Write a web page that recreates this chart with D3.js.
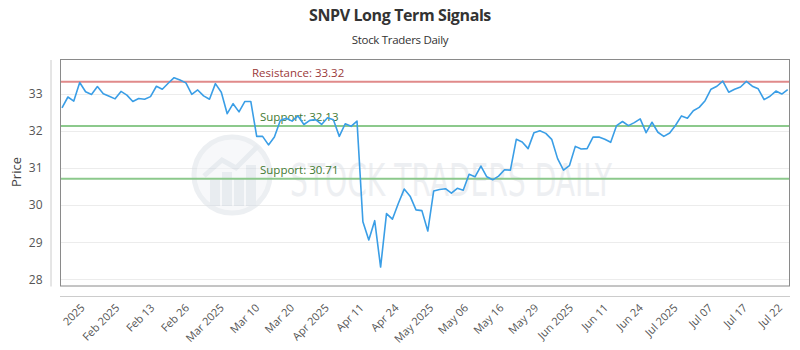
<!DOCTYPE html>
<html><head><meta charset="utf-8">
<script src="https://cdn.jsdelivr.net/npm/d3@7/dist/d3.min.js"></script>
<style>body{margin:0;background:#fff}</style>
</head><body><svg id="c" width="800" height="350"></svg>
<script>
const prices = [32.62,32.91,32.80,33.30,33.05,32.98,33.19,33.00,32.93,32.86,
33.06,32.96,32.79,32.87,32.85,32.92,33.20,33.12,33.28,33.43,
33.37,33.29,32.98,33.10,32.94,32.85,33.27,33.04,32.46,32.73,
32.51,32.79,32.79,31.85,31.85,31.62,31.83,32.28,32.34,32.26,
32.40,32.17,32.28,32.30,32.17,32.35,32.30,31.85,32.19,32.12,
32.26,29.55,29.06,29.58,28.33,29.77,29.62,30.04,30.43,30.24,
29.87,29.85,29.30,30.38,30.42,30.44,30.32,30.45,30.40,30.83,
30.76,31.05,30.76,30.68,30.78,30.95,30.94,31.77,31.70,31.52,
31.95,32.00,31.93,31.77,31.25,30.94,31.06,31.58,31.51,31.52,
31.83,31.83,31.77,31.69,32.14,32.25,32.14,32.22,32.32,31.95,
32.23,31.96,31.85,31.94,32.15,32.40,32.34,32.54,32.63,32.81,
33.12,33.20,33.34,33.04,33.12,33.18,33.33,33.20,33.13,32.84,
32.93,33.07,32.99,33.11];
const tickLabels = ["2025","Feb 2025","Feb 13","Feb 26","Mar 2025","Mar 10","Mar 20","Apr 2025","Apr 11","Apr 24",
"May 2025","May 06","May 16","May 29","Jun 2025","Jun 11","Jun 24","Jul 2025","Jul 07","Jul 17","Jul 22"];
const tickIdx = [4.4,10.3,16.2,22.1,28.0,34.0,39.9,45.8,51.7,57.6,63.5,69.4,75.4,81.3,87.2,93.1,99.0,104.9,110.8,116.7,122.6];
const yTicks = [28,29,30,31,32,33];
const levelNames = ["Resistance","Support","Support"];
const levelValues = [33.32,32.13,30.71];
const levelKinds = ["res","sup","sup"];

const svg = d3.select("#c");
const L = 60, R = 789, T = 59.5, B = 286;
const x = d3.scaleLinear().domain([0, prices.length - 1]).range([62, 787.7]);
const y = d3.scaleLinear().domain([27.82, 33.92]).range([B, T]);

// titles
svg.append("text").attr("x", 400).attr("y", 21).attr("text-anchor", "middle")
  .attr("font-family", "Open Sans, sans-serif").attr("font-weight", "bold").attr("font-size", 16)
  .attr("fill", "#333").attr("letter-spacing", -0.4).text("SNPV Long Term Signals");
svg.append("text").attr("x", 400).attr("y", 44).attr("text-anchor", "middle")
  .attr("font-family", "Open Sans, sans-serif").attr("font-size", 11.5)
  .attr("fill", "#333").attr("letter-spacing", -0.3).text("Stock Traders Daily");

// gridlines
svg.append("g").selectAll("line").data(yTicks).join("line")
  .attr("x1", L).attr("x2", R).attr("y1", d => Math.round(y(d)) + 0.5).attr("y2", d => Math.round(y(d)) + 0.5)
  .attr("stroke", "#ececec").attr("stroke-width", 1);

// watermark
const wm = svg.append("g").attr("opacity", 0.55);
wm.append("circle").attr("cx", 232).attr("cy", 175).attr("r", 38).attr("fill", "#f2f4f7")
  .attr("stroke", "#dde2e8").attr("stroke-width", 5);
[[210,180,10,26],[222,172,10,34],[234,178,10,28],[246,165,10,41]].forEach(b => {
  wm.append("rect").attr("x", b[0]).attr("y", b[1]).attr("width", b[2]).attr("height", b[3]).attr("fill", "#d6dde5");
});
wm.append("path").attr("d", "M204,176 L222,160 L236,168 L258,146").attr("fill", "none").attr("stroke", "#d6dde5").attr("stroke-width", 5);
wm.append("text").attr("x", 290).attr("y", 196).attr("font-family", "Liberation Sans Narrow, DejaVu Sans Condensed, sans-serif")
  .attr("font-size", 44).attr("fill", "#dfe3e8").attr("textLength", 322).attr("lengthAdjust", "spacingAndGlyphs")
  .text("STOCK TRADERS DAILY");

// level lines
const lvl = svg.append("g");
levelValues.forEach((v, i) => {
  const col = levelKinds[i] === "res" ? "#e08a8a" : "#8cc98c";
  const tcol = levelKinds[i] === "res" ? "#9b3a3a" : "#3f7a32";
  lvl.append("line").attr("x1", L).attr("x2", R).attr("y1", y(v)).attr("y2", y(v))
    .attr("stroke", col).attr("stroke-width", 2);
  lvl.append("text").attr("x", levelKinds[i] === "res" ? 252 : 260).attr("y", y(v) - 5)
    .attr("font-family", "Open Sans, sans-serif").attr("font-size", 11.5).attr("fill", tcol)
    .text(levelNames[i] + ": " + v.toFixed(2));
});

// price line
svg.append("path").datum(prices)
  .attr("d", d3.line().x((d, i) => x(i)).y(d => y(d)))
  .attr("fill", "none").attr("stroke", "#3a9ee6").attr("stroke-width", 1.6).attr("stroke-linejoin", "round");

// plot border
svg.append("rect").attr("x", L + 0.5).attr("y", T).attr("width", R - L).attr("height", B - T)
  .attr("fill", "none").attr("stroke", "#8a8a8a").attr("stroke-width", 1);

// y axis
const ya = svg.append("g").attr("transform", "translate(50.5,0)")
  .call(d3.axisLeft(y).tickValues(yTicks).tickSize(0).tickPadding(8).tickFormat(d3.format("d")));
ya.select(".domain").attr("stroke", "#ccc");
ya.selectAll("text").attr("font-family", "Open Sans, sans-serif").attr("font-size", 12).attr("fill", "#555");
svg.append("text").attr("transform", "translate(21,172) rotate(-90)").attr("text-anchor", "middle")
  .attr("font-family", "Open Sans, sans-serif").attr("font-size", 13).attr("fill", "#444").text("Price");

// x axis
const xa = svg.append("g").attr("transform", "translate(0,296.5)")
  .call(d3.axisBottom(x).tickValues(tickIdx).tickSize(0).tickFormat((d, i) => tickLabels[i]));
xa.select(".domain").attr("stroke", "#ccc").attr("d", `M${L},0H${R + 1}`);
xa.selectAll("text").attr("font-family", "Open Sans, sans-serif").attr("font-size", 11).attr("fill", "#555")
  .attr("text-anchor", "end").attr("dy", 0).attr("transform", "translate(-3,12) rotate(-45)").attr("y", 0).attr("x", 0);
</script></body></html>
